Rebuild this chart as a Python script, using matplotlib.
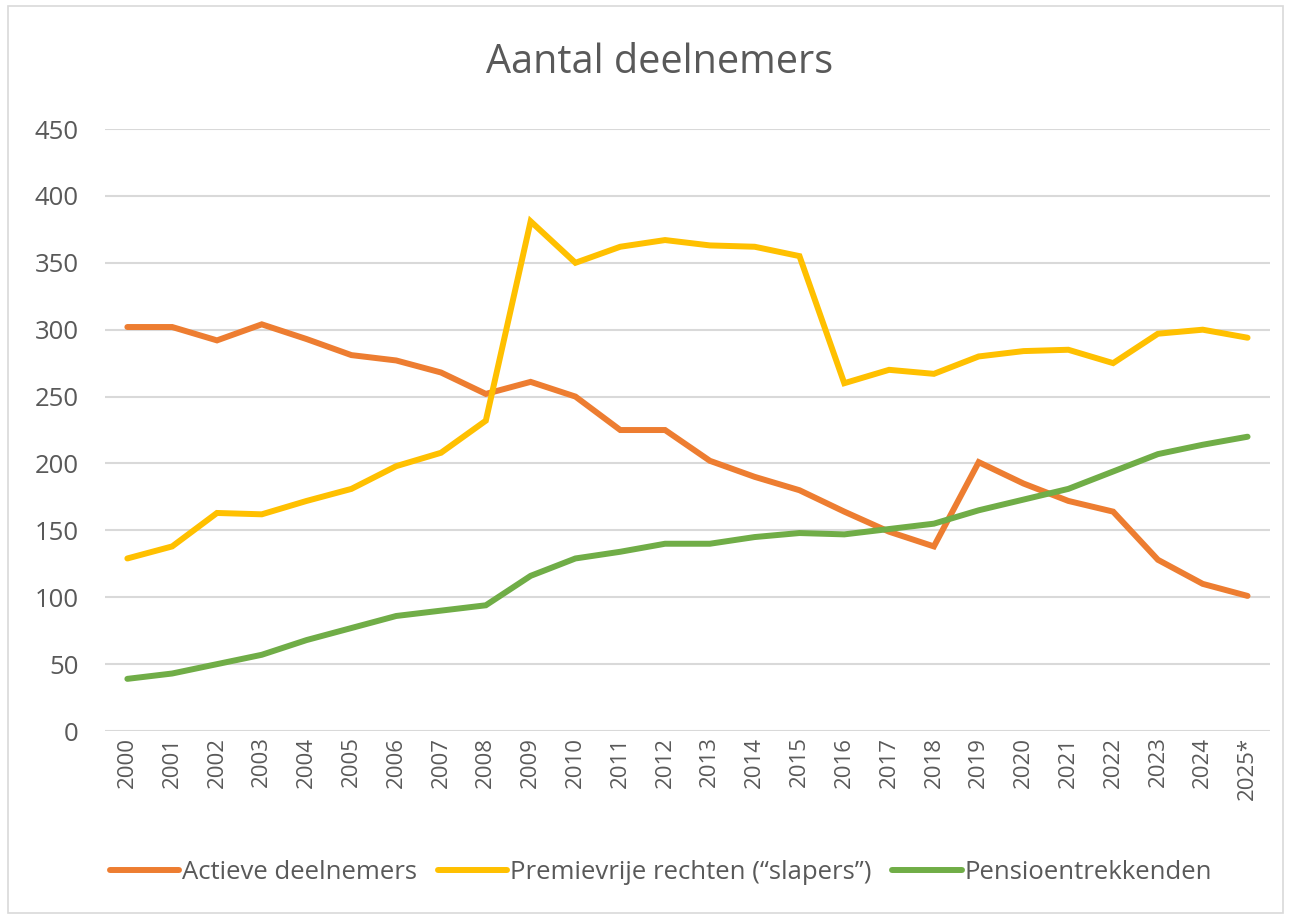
import matplotlib.pyplot as plt
from matplotlib.patches import Rectangle

# data
years = ["2000", "2001", "2002", "2003", "2004", "2005", "2006", "2007", "2008",
         "2009", "2010", "2011", "2012", "2013", "2014", "2015", "2016", "2017",
         "2018", "2019", "2020", "2021", "2022", "2023", "2024", "2025*"]
actieve = [302, 302, 292, 304, 293, 281, 277, 268, 252, 261, 250, 225, 225,
           202, 190, 180, 164, 149, 138, 201, 185, 172, 164, 128, 110, 101]
slapers = [129, 138, 163, 162, 172, 181, 198, 208, 232, 381, 350, 362, 367,
           363, 362, 355, 260, 270, 267, 280, 284, 285, 275, 297, 300, 294]
gepensioneerd = [39, 43, 50, 57, 68, 77, 86, 90, 94, 116, 129, 134, 140, 140,
                 145, 148, 147, 151, 155, 165, 173, 181, 194, 207, 214, 220]
labels = ["Actieve deelnemers", "Premievrije rechten (\u201cslapers\u201d)",
          "Pensioentrekkenden"]
colors = ["#ED7D31", "#FFC000", "#70AD47"]

plt.rcParams["font.family"] = ["Open Sans", "DejaVu Sans"]
text_color = "#595959"

fig = plt.figure(figsize=(12.91, 9.17), dpi=100)
ax = fig.add_axes([0.0813, 0.2028, 0.9024, 0.6565])

x = range(len(years))
for series, label, color in zip([actieve, slapers, gepensioneerd], labels, colors):
    ax.plot(x, series, color=color, linewidth=4.3, label=label,
            solid_capstyle="round", solid_joinstyle="miter")

ax.set_xlim(-0.5, len(years) - 0.5)
ax.set_ylim(0, 450)
ax.set_yticks(range(0, 451, 50))
ax.set_xticks(list(x))
ax.set_xticklabels(years, rotation=90)
ax.tick_params(axis="y", length=0, labelsize=18.5, colors=text_color, pad=19)
ax.tick_params(axis="x", length=0, labelsize=16, colors=text_color, pad=4)
ax.grid(axis="y", color="#D9D9D9", linewidth=1.5)
ax.set_axisbelow(True)
for side in ax.spines.values():
    side.set_visible(False)

fig.text(0.511, 0.932, "Aantal deelnemers", ha="center", va="center",
         fontsize=28.5, color=text_color)

fig.legend(loc="center", bbox_to_anchor=(0.512, 0.048), ncol=3, frameon=False,
           fontsize=18.5, labelcolor=text_color, handlelength=2.7,
           handletextpad=0.12, columnspacing=0.8)

fig.patches.append(Rectangle((0.006, 0.004), 0.988, 0.99, transform=fig.transFigure,
                             fill=False, edgecolor="#D9D9D9", linewidth=1.2))

fig.savefig("out.png", dpi=100)
